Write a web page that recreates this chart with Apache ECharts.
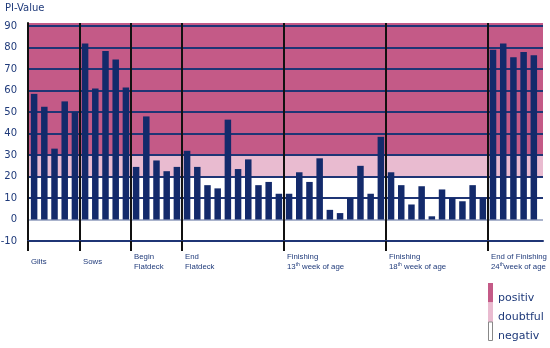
<!DOCTYPE html>
<html><head><meta charset="utf-8">
<script src="https://cdn.jsdelivr.net/npm/echarts@6/dist/echarts.min.js"></script>
<style>html,body{margin:0;padding:0;background:#fff}#c{width:550px;height:348px}</style>
</head><body><div id="c"></div>
<script>
// ---- data ----
var groupNames = ['Gilts', 'Sows', 'Begin\nFlatdeck', 'End\nFlatdeck',
  'Finishing\n13{s|th} week of age', 'Finishing\n18{s|th} week of age', 'End of Finishing\n24{s|th}week of age'];
var gilts = [58.5, 52.5, 33, 55, 50];
var sows = [82, 61, 78.5, 74.5, 61.5];
var beginFlatdeck = [24.5, 48, 27.5, 22.5, 24.5];
var endFlatdeck = [32, 24.5, 16, 14.5, 46.5, 23.5, 28, 16, 17.5, 12];
var finishing13 = [12, 22, 17.5, 28.5, 4.5, 3, 10, 25, 12, 38.5];
var finishing18 = [22, 16, 7, 15.5, 1.5, 14, 10, 8.5, 16, 10];
var endFinishing = [79, 82, 75.5, 78, 76.5];
var yTicks = [-10, 0, 10, 20, 30, 40, 50, 60, 70, 80, 90];
var bands = {positiv: [30, 91.5], doubtful: [20, 30]};
var legendNames = ['positiv', 'doubtful', 'negativ'];

var groups = [gilts, sows, beginFlatdeck, endFlatdeck, finishing13, finishing18, endFinishing];
var barData = [];
var seps = [-0.6];
var idx = 0;
groups.forEach(function (g, gi) {
  if (gi > 0) seps.push(idx - 0.5);
  g.forEach(function (v) { barData.push([idx, v]); idx++; });
});
var labelPos = seps.map(function (s) { return s + 0.3; });
var labelMap = {};
labelPos.forEach(function (p, i) { labelMap[p.toFixed(2)] = groupNames[i]; });

var NAVY = '#1f3a7a';
var chart = echarts.init(document.getElementById('c'), null, {renderer: 'canvas'});
chart.setOption({
  animation: false,
  title: {text: 'PI-Value', left: 0, top: -2,
    textStyle: {fontFamily: 'DejaVu Sans', fontSize: 10, fontWeight: 'normal', color: NAVY}},
  grid: {left: 28, right: 7, top: 23, bottom: 107, containLabel: false, outerBoundsMode: 'none'},
  xAxis: {
    type: 'value', min: -0.6, max: 49.9, z: 3,
    axisLine: {show: true, onZero: false, lineStyle: {color: '#1f3575', width: 2}},
    axisTick: {show: true, customValues: seps, length: 10, lineStyle: {color: '#111', width: 2}},
    splitLine: {show: true, lineStyle: {color: '#111', width: 2}},
    axisLabel: {
      customValues: labelPos, align: 'left', verticalAlign: 'middle', margin: 21,
      fontFamily: 'Liberation Sans', fontSize: 7.8, lineHeight: 10.5, color: NAVY,
      formatter: function (v) { return labelMap[v.toFixed(2)] || ''; },
      rich: {s: {fontFamily: 'Liberation Sans', fontSize: 5, color: NAVY, verticalAlign: 'top', lineHeight: 6}}
    }
  },
  yAxis: {
    type: 'value', min: -10, max: 91.5, interval: 10, z: 3,
    axisLine: {show: true, onZero: false, lineStyle: {color: '#111', width: 2}},
    axisTick: {show: false, customValues: yTicks},
    axisLabel: {customValues: yTicks, margin: 11, fontFamily: 'DejaVu Sans', fontSize: 10, color: NAVY},
    splitLine: {show: true, lineStyle: {width: 2,
      color: ['#1f3575', '#aab3cc', '#1f3575', '#1f3575', '#1f3575', '#1f3575', '#1f3575', '#1f3575', '#1f3575', '#1f3575', '#1f3575']}}
  },
  series: [
    {type: 'line', data: [], z: 1, silent: true,
      markArea: {silent: true, data: [
        [{yAxis: bands.positiv[0], itemStyle: {color: '#c45a87'}}, {yAxis: bands.positiv[1]}],
        [{yAxis: bands.doubtful[0], itemStyle: {color: '#e9bbd0'}}, {yAxis: bands.doubtful[1]}]
      ]}},
    {type: 'bar', data: barData, barWidth: 6.5, z: 4, itemStyle: {color: '#132a6b'}}
  ],
  graphic: [
    {type: 'rect', shape: {x: 488, y: 283, width: 5, height: 19.5}, style: {fill: '#c45a87'}},
    {type: 'rect', shape: {x: 488, y: 302.5, width: 5, height: 19.5}, style: {fill: '#e9bbd0'}},
    {type: 'rect', shape: {x: 488.5, y: 322, width: 4, height: 18.5}, style: {fill: '#fff', stroke: '#888', lineWidth: 1}},
    {type: 'text', x: 498, y: 298, style: {text: legendNames[0], fill: NAVY, font: '11px "DejaVu Sans"', verticalAlign: 'middle'}},
    {type: 'text', x: 498, y: 317, style: {text: legendNames[1], fill: NAVY, font: '11px "DejaVu Sans"', verticalAlign: 'middle'}},
    {type: 'text', x: 498, y: 336, style: {text: legendNames[2], fill: NAVY, font: '11px "DejaVu Sans"', verticalAlign: 'middle'}}
  ]
});
</script></body></html>
